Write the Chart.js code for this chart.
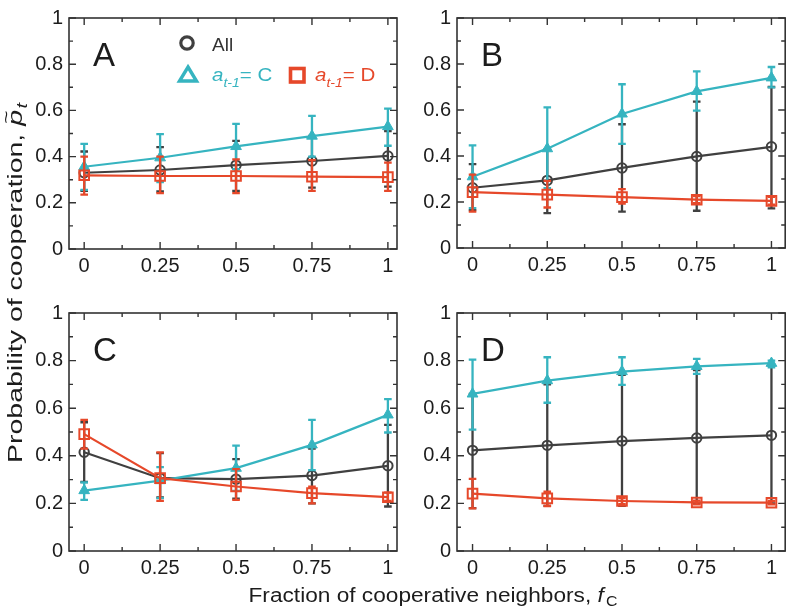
<!DOCTYPE html>
<html><head><meta charset="utf-8">
<script src="https://cdn.jsdelivr.net/npm/chart.js@4/dist/chart.umd.min.js"></script>
<style>
html,body{margin:0;padding:0;background:#fff;}
#wrap{position:relative;width:794px;height:614px;overflow:hidden;}
canvas{position:absolute;left:0;top:0;}
</style></head><body>
<div id="wrap">
<canvas id="cA" width="794" height="614"></canvas>
<canvas id="cB" width="794" height="614"></canvas>
<canvas id="cC" width="794" height="614"></canvas>
<canvas id="cD" width="794" height="614"></canvas>
</div>
<script>
// ---------- data ----------
const fC = [0, 0.25, 0.5, 0.75, 1];
const xTicks = [0, 0.25, 0.5, 0.75, 1];
const xMinor = [0.125, 0.375, 0.625, 0.875];
const yTicks = [0, 0.2, 0.4, 0.6, 0.8, 1];
const yMinor = [0.1, 0.3, 0.5, 0.7, 0.9];

// Panel A
const A_all    = [0.330, 0.342, 0.363, 0.381, 0.403];
const A_all_lo = [0.252, 0.249, 0.252, 0.266, 0.270];
const A_all_hi = [0.422, 0.441, 0.468, 0.490, 0.510];
const A_C      = [0.356, 0.395, 0.444, 0.489, 0.530];
const A_C_lo   = [0.256, 0.290, 0.346, 0.400, 0.447];
const A_C_hi   = [0.455, 0.497, 0.542, 0.576, 0.608];
const A_D      = [0.319, 0.316, 0.316, 0.313, 0.311];
const A_D_lo   = [0.235, 0.242, 0.242, 0.252, 0.252];
const A_D_hi   = [0.400, 0.400, 0.388, 0.385, 0.374];
// Panel B
const B_all    = [0.262, 0.294, 0.348, 0.398, 0.440];
const B_all_lo = [0.165, 0.152, 0.158, 0.162, 0.172];
const B_all_hi = [0.365, 0.430, 0.538, 0.636, 0.700];
const B_C      = [0.310, 0.432, 0.583, 0.681, 0.740];
const B_C_lo   = [0.173, 0.260, 0.453, 0.597, 0.698];
const B_C_hi   = [0.446, 0.611, 0.712, 0.768, 0.787];
const B_D      = [0.243, 0.232, 0.221, 0.210, 0.205];
const B_D_lo   = [0.158, 0.176, 0.193, 0.195, 0.188];
const B_D_hi   = [0.319, 0.292, 0.256, 0.226, 0.222];
// Panel C
const C_all    = [0.415, 0.306, 0.302, 0.317, 0.358];
const C_all_lo = [0.290, 0.225, 0.220, 0.200, 0.187];
const C_all_hi = [0.541, 0.411, 0.386, 0.430, 0.530];
const C_C      = [0.254, 0.296, 0.348, 0.446, 0.572];
const C_C_lo   = [0.215, 0.222, 0.253, 0.340, 0.498];
const C_C_hi   = [0.288, 0.352, 0.443, 0.551, 0.638];
const C_D      = [0.491, 0.306, 0.271, 0.243, 0.226];
const C_D_lo   = [0.430, 0.211, 0.215, 0.200, 0.210];
const C_D_hi   = [0.551, 0.414, 0.344, 0.270, 0.245];
// Panel D
const D_all    = [0.423, 0.444, 0.462, 0.475, 0.486];
const D_all_lo = [0.180, 0.190, 0.190, 0.200, 0.200];
const D_all_hi = [0.660, 0.700, 0.740, 0.760, 0.780];
const D_C      = [0.660, 0.716, 0.754, 0.776, 0.789];
const D_C_lo   = [0.510, 0.623, 0.698, 0.744, 0.772];
const D_C_hi   = [0.804, 0.814, 0.814, 0.807, 0.800];
const D_D      = [0.241, 0.221, 0.210, 0.204, 0.203];
const D_D_lo   = [0.179, 0.189, 0.197, 0.196, 0.196];
const D_D_hi   = [0.303, 0.249, 0.222, 0.212, 0.210];

// ---------- style ----------
const GRAY = '#404040', TEAL = '#36b4c0', ORANGE = '#e6482a', INK = '#1c1c1c', FRAME = '#333333';
const FONT = '"Liberation Sans", Arial, sans-serif';
const W = 794, H = 614, YAXW = 40, XAXH = 40;

const framePlugin = {
  id: 'frame',
  afterDraw(chart) {
    const ctx = chart.ctx, a = chart.chartArea, xs = chart.scales.x, ys = chart.scales.y;
    ctx.save();
    ctx.strokeStyle = FRAME; ctx.lineWidth = 1.6;
    ctx.strokeRect(a.left, a.top, a.right - a.left, a.bottom - a.top);
    ctx.lineWidth = 1.4;
    ctx.beginPath();
    const tk = (vals, len) => {
      vals.forEach(v => {
        const px = xs.getPixelForValue(v);
        ctx.moveTo(px, a.bottom); ctx.lineTo(px, a.bottom - len);
        ctx.moveTo(px, a.top); ctx.lineTo(px, a.top + len);
      });
    };
    const tky = (vals, len) => {
      vals.forEach(v => {
        const py = ys.getPixelForValue(v);
        ctx.moveTo(a.left, py); ctx.lineTo(a.left + len, py);
        ctx.moveTo(a.right, py); ctx.lineTo(a.right - len, py);
      });
    };
    tk(xTicks, 7); tk(xMinor, 4); tky(yTicks, 7); tky(yMinor, 4);
    ctx.stroke();
    // panel letter
    const lt = chart.options.plugins.panelLetter;
    ctx.fillStyle = INK; ctx.font = '33px ' + FONT; ctx.textBaseline = 'alphabetic'; ctx.textAlign = 'left';
    ctx.fillText(lt, a.left + 24, a.top + 48);
    ctx.restore();
  }
};

const errPlugin = {
  id: 'errbars',
  beforeDatasetDraw(chart, args) {
    const ds = chart.data.datasets[args.index];
    if (!ds.lo) return;
    const ctx = chart.ctx, xs = chart.scales.x, ys = chart.scales.y;
    ctx.save();
    ctx.strokeStyle = ds.borderColor; ctx.lineWidth = 2.3;
    ctx.beginPath();
    ds.data.forEach((p, i) => {
      const x = xs.getPixelForValue(p.x);
      const y1 = ys.getPixelForValue(ds.lo[i]), y2 = ys.getPixelForValue(ds.hi[i]);
      ctx.moveTo(x, y1); ctx.lineTo(x, y2);
      ctx.moveTo(x - 3.8, y1); ctx.lineTo(x + 3.8, y1);
      ctx.moveTo(x - 3.8, y2); ctx.lineTo(x + 3.8, y2);
    });
    ctx.stroke();
    ctx.restore();
  }
};

function drawSub(ctx, x, y, base, baseFont, sub, subFont, dy, color) {
  ctx.fillStyle = color;
  ctx.font = baseFont; ctx.fillText(base, x, y);
  x += ctx.measureText(base).width;
  ctx.font = subFont; ctx.fillText(sub, x, y + dy);
  return x + ctx.measureText(sub).width;
}

const decorPlugin = {
  id: 'decor',
  afterDraw(chart) {
    const ctx = chart.ctx;
    ctx.save();
    ctx.textBaseline = 'alphabetic'; ctx.textAlign = 'left';
    // legend
    ctx.strokeStyle = GRAY; ctx.lineWidth = 3.2;
    ctx.beginPath(); ctx.arc(187, 43, 6.2, 0, Math.PI * 2); ctx.stroke();
    ctx.fillStyle = '#333'; ctx.font = '19px ' + FONT; ctx.fillText('All', 212, 51);
    ctx.strokeStyle = TEAL; ctx.lineWidth = 3.4; ctx.lineJoin = 'miter';
    ctx.beginPath(); ctx.moveTo(188, 67); ctx.lineTo(196.5, 81); ctx.lineTo(179.5, 81); ctx.closePath(); ctx.stroke();
    ctx.save(); ctx.translate(212, 81); ctx.scale(1.08, 1);
    let x = drawSub(ctx, 0, 0, 'a', 'italic 19px ' + FONT, 't-1', 'italic 13px ' + FONT, 6, TEAL);
    ctx.font = '19px ' + FONT; ctx.fillText('= C', x, 0);
    ctx.restore();
    ctx.strokeStyle = ORANGE; ctx.lineWidth = 3.6;
    ctx.strokeRect(290.5, 68.5, 13.5, 13.5);
    ctx.save(); ctx.translate(315, 81); ctx.scale(1.08, 1);
    x = drawSub(ctx, 0, 0, 'a', 'italic 19px ' + FONT, 't-1', 'italic 13px ' + FONT, 6, ORANGE);
    ctx.font = '19px ' + FONT; ctx.fillText('= D', x, 0);
    ctx.restore();

    // x title
    ctx.fillStyle = INK;
    const TF = 20, TS = 14;
    const xt = 'Fraction of cooperative neighbors, ';
    ctx.font = TF + 'px ' + FONT; const w1 = ctx.measureText(xt).width;
    ctx.font = 'italic ' + TF + 'px ' + FONT; const wf = ctx.measureText('f').width;
    ctx.font = TS + 'px ' + FONT; const wc = ctx.measureText('C').width;
    const xTot = w1 + wf + wc + 2, xs = 369 / xTot;
    ctx.save(); ctx.translate(433 - 369 / 2, 602); ctx.scale(xs, 1);
    let sx = 0;
    ctx.font = TF + 'px ' + FONT; ctx.fillText(xt, sx, 0); sx += w1;
    ctx.font = 'italic ' + TF + 'px ' + FONT; ctx.fillText('f', sx, 0); sx += wf + 2;
    ctx.font = TS + 'px ' + FONT; ctx.fillText('C', sx, 4);
    ctx.restore();

    // y title
    ctx.translate(22, 283); ctx.rotate(-Math.PI / 2);
    const yt = 'Probability of cooperation, ';
    ctx.font = TF + 'px ' + FONT; const v1 = ctx.measureText(yt).width;
    ctx.font = 'italic ' + TF + 'px ' + FONT; const vp = ctx.measureText('p').width;
    ctx.font = 'italic ' + TS + 'px ' + FONT; const vt = ctx.measureText('t').width;
    const yTot = v1 + vp + vt + 1, yLen = 360, ysc = yLen / yTot;
    ctx.translate(-yLen / 2, 0); ctx.scale(ysc, 1);
    let yx = 0;
    ctx.font = TF + 'px ' + FONT; ctx.fillText(yt, yx, 0); yx += v1;
    ctx.font = 'italic ' + TF + 'px ' + FONT; ctx.fillText('p', yx, 0);
    ctx.font = '16px ' + FONT; ctx.fillText('~', yx + 1.5, -10);
    yx += vp + 1;
    ctx.font = 'italic ' + TS + 'px ' + FONT; ctx.fillText('t', yx, 5);
    ctx.restore();
  }
};

function mkDatasets(all, allLo, allHi, c, cLo, cHi, d, dLo, dHi) {
  const pts = arr => fC.map((x, i) => ({ x, y: arr[i] }));
  return [
    { label: 'D', data: pts(d), lo: dLo, hi: dHi, borderColor: ORANGE, backgroundColor: 'rgba(0,0,0,0)',
      pointStyle: 'rect', pointRadius: 6.8, pointBorderWidth: 2, borderWidth: 2.2, pointBorderColor: ORANGE,
      pointBackgroundColor: 'rgba(0,0,0,0)', order: 0 },
    { label: 'C', data: pts(c), lo: cLo, hi: cHi, borderColor: TEAL, backgroundColor: TEAL,
      pointStyle: 'triangle', pointRadius: 6.2, pointBorderWidth: 1, borderWidth: 2.2, pointBorderColor: TEAL,
      pointBackgroundColor: TEAL, order: 1 },
    { label: 'All', data: pts(all), lo: allLo, hi: allHi, borderColor: GRAY, backgroundColor: 'rgba(0,0,0,0)',
      pointStyle: 'circle', pointRadius: 4.7, pointBorderWidth: 2, borderWidth: 2.2, pointBorderColor: GRAY,
      pointBackgroundColor: 'rgba(0,0,0,0)', order: 2 }
  ];
}

function makePanel(id, box, letter, datasets, extra) {
  const tickFont = { family: FONT, size: 20 };
  new Chart(document.getElementById(id), {
    type: 'line',
    data: { datasets },
    options: {
      responsive: false, animation: false, devicePixelRatio: 1,
      events: [],
      layout: { padding: { left: box.l - YAXW, top: box.t, right: W - box.r, bottom: H - box.b - XAXH } },
      plugins: { legend: { display: false }, tooltip: { enabled: false }, panelLetter: letter },
      scales: {
        x: {
          type: 'linear', min: box.xmin, max: box.xmax,
          afterBuildTicks: s => { s.ticks = xTicks.map(v => ({ value: v })); },
          afterFit: s => { s.height = XAXH; },
          grid: { display: false, drawTicks: false }, border: { display: false },
          ticks: { font: tickFont, color: INK, padding: 5, maxRotation: 0, autoSkip: false, callback: v => String(v) }
        },
        y: {
          type: 'linear', min: 0, max: 1,
          afterBuildTicks: s => { s.ticks = yTicks.map(v => ({ value: v })); },
          afterFit: s => { s.width = YAXW; },
          grid: { display: false, drawTicks: false }, border: { display: false },
          ticks: { font: tickFont, color: INK, padding: 6, autoSkip: false, callback: v => String(v) }
        }
      }
    },
    plugins: [errPlugin, framePlugin].concat(extra || [])
  });
}

makePanel('cA', { l: 69, t: 10, r: 397, b: 249, xmin: -0.05, xmax: 1.03 }, 'A',
  mkDatasets(A_all, A_all_lo, A_all_hi, A_C, A_C_lo, A_C_hi, A_D, A_D_lo, A_D_hi), [decorPlugin]);
makePanel('cB', { l: 457, t: 10, r: 790, b: 248, xmin: -0.052, xmax: 1.046 }, 'B',
  mkDatasets(B_all, B_all_lo, B_all_hi, B_C, B_C_lo, B_C_hi, B_D, B_D_lo, B_D_hi));
makePanel('cC', { l: 69, t: 313, r: 397, b: 551, xmin: -0.05, xmax: 1.03 }, 'C',
  mkDatasets(C_all, C_all_lo, C_all_hi, C_C, C_C_lo, C_C_hi, C_D, C_D_lo, C_D_hi));
makePanel('cD', { l: 457, t: 313, r: 790, b: 551, xmin: -0.052, xmax: 1.046 }, 'D',
  mkDatasets(D_all, D_all_lo, D_all_hi, D_C, D_C_lo, D_C_hi, D_D, D_D_lo, D_D_hi));
</script>
</body></html>
